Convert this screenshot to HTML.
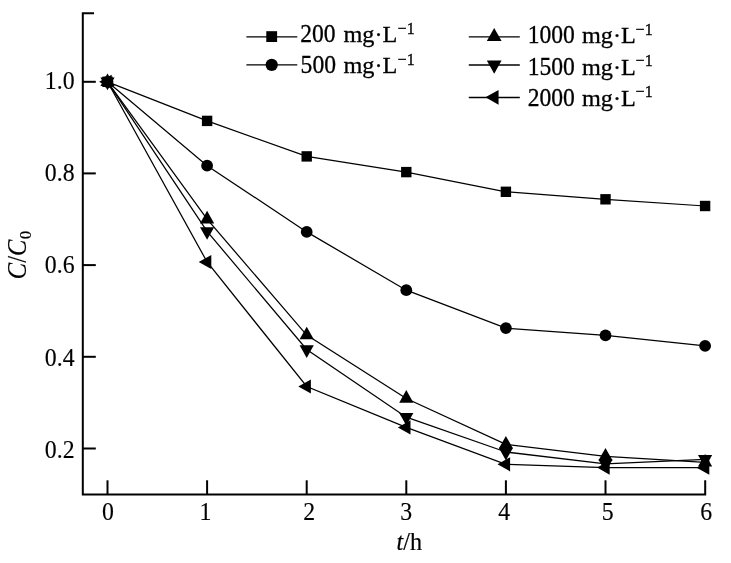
<!DOCTYPE html>
<html lang="en">
<head>
<meta charset="utf-8">
<title>C/C0 versus t/h</title>
<style>
html,body{margin:0;padding:0;background:#fff;}
body{width:731px;height:563px;overflow:hidden;}
svg{display:block;}
text{font-family:"Liberation Serif","DejaVu Serif",serif;fill:#000;}
.it{font-style:italic;}
</style>
</head>
<body>
<svg width="731" height="563" viewBox="0 0 731 563">
<rect x="0" y="0" width="731" height="563" fill="#fff"/>

<g fill="none" stroke="#000" stroke-width="2.0" stroke-linecap="butt" stroke-linejoin="miter">
<path d="M94.0,13.2 H82.8 V494.45 H705.20 V480.3"/>
<path d="M107.5,494.45 V480.3"/>
<path d="M207.1,494.45 V480.3"/>
<path d="M306.7,494.45 V480.3"/>
<path d="M406.3,494.45 V480.3"/>
<path d="M505.9,494.45 V480.3"/>
<path d="M605.5,494.45 V480.3"/>
<path d="M82.8,81.8 H95.8"/>
<path d="M82.8,173.4 H95.8"/>
<path d="M82.8,265.1 H95.8"/>
<path d="M82.8,356.8 H95.8"/>
<path d="M82.8,448.5 H95.8"/>
</g>
<g fill="none" stroke="#000" stroke-width="1.25">
<polyline points="107.5,81.8 207.1,120.9 306.7,156.4 406.3,172.1 505.9,191.8 605.5,199.3 705.1,206.0"/>
<polyline points="107.5,81.8 207.1,165.7 306.7,231.9 406.3,290.2 505.9,328.1 605.5,335.3 705.1,345.9"/>
<polyline points="107.5,81.8 207.1,219.2 306.7,335.1 406.3,398.5 505.9,444.3 605.5,456.3 705.1,462.4"/>
<polyline points="107.5,81.8 207.1,231.4 306.7,349.5 406.3,417.2 505.9,452.0 605.5,463.8 705.1,459.3"/>
<polyline points="107.5,81.8 207.1,262.0 306.7,386.5 406.3,427.4 505.9,464.3 605.5,467.6 705.1,467.7"/>
</g>
<g fill="#000" stroke="none">
<rect x="102.30" y="76.60" width="10.40" height="10.40"/>
<rect x="201.90" y="115.70" width="10.40" height="10.40"/>
<rect x="301.50" y="151.20" width="10.40" height="10.40"/>
<rect x="401.10" y="166.90" width="10.40" height="10.40"/>
<rect x="500.70" y="186.60" width="10.40" height="10.40"/>
<rect x="600.30" y="194.10" width="10.40" height="10.40"/>
<rect x="699.90" y="200.80" width="10.40" height="10.40"/>
<circle cx="107.50" cy="81.80" r="5.90"/>
<circle cx="207.10" cy="165.70" r="5.90"/>
<circle cx="306.70" cy="231.90" r="5.90"/>
<circle cx="406.30" cy="290.20" r="5.90"/>
<circle cx="505.90" cy="328.10" r="5.90"/>
<circle cx="605.50" cy="335.30" r="5.90"/>
<circle cx="705.10" cy="345.90" r="5.90"/>
<polygon points="107.50,73.40 114.60,86.00 100.40,86.00"/>
<polygon points="207.10,210.80 214.20,223.40 200.00,223.40"/>
<polygon points="306.70,326.70 313.80,339.30 299.60,339.30"/>
<polygon points="406.30,390.10 413.40,402.70 399.20,402.70"/>
<polygon points="505.90,435.90 513.00,448.50 498.80,448.50"/>
<polygon points="605.50,447.90 612.60,460.50 598.40,460.50"/>
<polygon points="705.10,454.00 712.20,466.60 698.00,466.60"/>
<polygon points="107.50,90.20 114.60,77.60 100.40,77.60"/>
<polygon points="207.10,239.80 214.20,227.20 200.00,227.20"/>
<polygon points="306.70,357.90 313.80,345.30 299.60,345.30"/>
<polygon points="406.30,425.60 413.40,413.00 399.20,413.00"/>
<polygon points="505.90,460.40 513.00,447.80 498.80,447.80"/>
<polygon points="605.50,472.20 612.60,459.60 598.40,459.60"/>
<polygon points="705.10,467.70 712.20,455.10 698.00,455.10"/>
<polygon points="99.10,81.80 111.70,74.70 111.70,88.90"/>
<polygon points="198.70,262.00 211.30,254.90 211.30,269.10"/>
<polygon points="298.30,386.50 310.90,379.40 310.90,393.60"/>
<polygon points="397.90,427.40 410.50,420.30 410.50,434.50"/>
<polygon points="497.50,464.30 510.10,457.20 510.10,471.40"/>
<polygon points="597.10,467.60 609.70,460.50 609.70,474.70"/>
<polygon points="696.70,467.70 709.30,460.60 709.30,474.80"/>
</g>
<line x1="246.4" y1="36.9" x2="297.3" y2="36.9" stroke="#000" stroke-width="1.35"/>
<g fill="#000"><rect x="266.29" y="31.19" width="10.82" height="10.82"/></g>
<text transform="translate(300.2,42.2) scale(0.955,1)" font-size="24.7" text-anchor="start" stroke="#000" stroke-width="0.3">200</text>
<text transform="translate(343.5,42.2) scale(1.02,1)" font-size="23.8" text-anchor="start" stroke="#000" stroke-width="0.3">mg·L</text>
<text transform="translate(397.6,33.5) scale(0.955,1)" font-size="16.8" text-anchor="start" stroke="#000" stroke-width="0.3">−1</text>
<line x1="246.4" y1="64.9" x2="297.3" y2="64.9" stroke="#000" stroke-width="1.35"/>
<g fill="#000"><circle cx="271.70" cy="64.80" r="6.14"/></g>
<text transform="translate(300.6,73.2) scale(0.955,1)" font-size="24.7" text-anchor="start" stroke="#000" stroke-width="0.3">500</text>
<text transform="translate(343.5,73.2) scale(1.02,1)" font-size="23.8" text-anchor="start" stroke="#000" stroke-width="0.3">mg·L</text>
<text transform="translate(397.6,64.5) scale(0.955,1)" font-size="16.8" text-anchor="start" stroke="#000" stroke-width="0.3">−1</text>
<line x1="468.8" y1="36.9" x2="519.8" y2="36.9" stroke="#000" stroke-width="1.35"/>
<g fill="#000"><polygon points="494.20,27.96 501.58,41.07 486.82,41.07"/></g>
<text transform="translate(527.7,43.4) scale(0.955,1)" font-size="24.7" text-anchor="start" stroke="#000" stroke-width="0.3">1000</text>
<text transform="translate(581.9,43.4) scale(1.02,1)" font-size="23.8" text-anchor="start" stroke="#000" stroke-width="0.3">mg·L</text>
<text transform="translate(635.6,34.7) scale(0.955,1)" font-size="16.8" text-anchor="start" stroke="#000" stroke-width="0.3">−1</text>
<line x1="468.8" y1="65.0" x2="519.8" y2="65.0" stroke="#000" stroke-width="1.35"/>
<g fill="#000"><polygon points="494.20,73.64 501.58,60.53 486.82,60.53"/></g>
<text transform="translate(527.7,75.1) scale(0.955,1)" font-size="24.7" text-anchor="start" stroke="#000" stroke-width="0.3">1500</text>
<text transform="translate(581.9,75.1) scale(1.02,1)" font-size="23.8" text-anchor="start" stroke="#000" stroke-width="0.3">mg·L</text>
<text transform="translate(635.6,66.4) scale(0.955,1)" font-size="16.8" text-anchor="start" stroke="#000" stroke-width="0.3">−1</text>
<line x1="468.8" y1="97.5" x2="519.8" y2="97.5" stroke="#000" stroke-width="1.35"/>
<g fill="#000"><polygon points="485.46,97.30 498.57,89.92 498.57,104.68"/></g>
<text transform="translate(527.7,105.9) scale(0.955,1)" font-size="24.7" text-anchor="start" stroke="#000" stroke-width="0.3">2000</text>
<text transform="translate(581.9,105.9) scale(1.02,1)" font-size="23.8" text-anchor="start" stroke="#000" stroke-width="0.3">mg·L</text>
<text transform="translate(635.6,97.2) scale(0.955,1)" font-size="16.8" text-anchor="start" stroke="#000" stroke-width="0.3">−1</text>
<text transform="translate(74.6,89) scale(0.93,1)" font-size="25.6" text-anchor="end" stroke="#000" stroke-width="0.15">1.0</text>
<text transform="translate(74.6,181) scale(0.93,1)" font-size="25.6" text-anchor="end" stroke="#000" stroke-width="0.15">0.8</text>
<text transform="translate(74.6,273.2) scale(0.93,1)" font-size="25.6" text-anchor="end" stroke="#000" stroke-width="0.15">0.6</text>
<text transform="translate(74.6,366) scale(0.93,1)" font-size="25.6" text-anchor="end" stroke="#000" stroke-width="0.15">0.4</text>
<text transform="translate(74.6,458.4) scale(0.93,1)" font-size="25.6" text-anchor="end" stroke="#000" stroke-width="0.15">0.2</text>
<text transform="translate(107.9,519.9) scale(0.93,1)" font-size="25.6" text-anchor="middle" stroke="#000" stroke-width="0.15">0</text>
<text transform="translate(205.5,519.9) scale(0.93,1)" font-size="25.6" text-anchor="middle" stroke="#000" stroke-width="0.15">1</text>
<text transform="translate(309.2,519.9) scale(0.93,1)" font-size="25.6" text-anchor="middle" stroke="#000" stroke-width="0.15">2</text>
<text transform="translate(406.3,519.9) scale(0.93,1)" font-size="25.6" text-anchor="middle" stroke="#000" stroke-width="0.15">3</text>
<text transform="translate(504.1,519.9) scale(0.93,1)" font-size="25.6" text-anchor="middle" stroke="#000" stroke-width="0.15">4</text>
<text transform="translate(607.8,519.9) scale(0.93,1)" font-size="25.6" text-anchor="middle" stroke="#000" stroke-width="0.15">5</text>
<text transform="translate(706.1,519.9) scale(0.93,1)" font-size="25.6" text-anchor="middle" stroke="#000" stroke-width="0.15">6</text>
<text transform="translate(396.5,549.9) scale(0.98,1)" font-size="24.6" text-anchor="start" stroke="#000" stroke-width="0.2"><tspan class="it">t</tspan>/h</text>
<text transform="translate(25.9,279.2) rotate(-90) scale(0.915,1)" font-size="26.8" stroke="#000" stroke-width="0.15"><tspan class="it">C</tspan>/<tspan class="it">C</tspan></text>
<text transform="translate(30.6,239.3) rotate(-90) scale(1.0,1)" font-size="17" stroke="#000" stroke-width="0.15">0</text>
</svg>
</body>
</html>
